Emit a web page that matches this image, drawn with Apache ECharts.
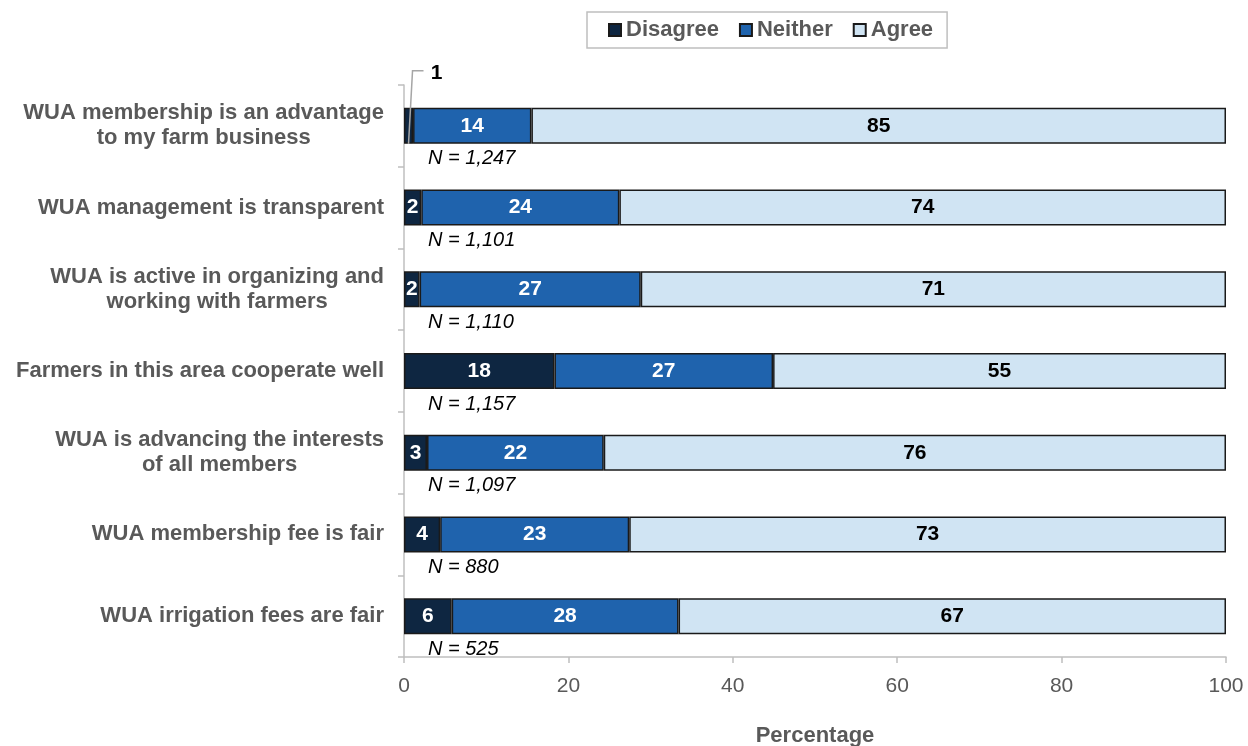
<!DOCTYPE html>
<html>
<head>
<meta charset="utf-8">
<script src="https://cdn.jsdelivr.net/npm/echarts@6/dist/echarts.min.js"></script>
<style>
html,body{margin:0;padding:0;background:#fff;}
#chart{width:1248px;height:746px;}
</style>
</head>
<body>
<div id="chart"></div>
<script>
const categories = [
  'WUA membership is an advantage\nto my farm business',
  'WUA management is transparent',
  'WUA is active in organizing and\nworking with farmers',
  'Farmers in this area cooperate well',
  'WUA is advancing the interests\nof all members',
  'WUA membership fee is fair',
  'WUA irrigation fees are fair'
];
const disagree = [1.1, 2.1, 1.9, 18.3, 2.8, 4.4, 5.8];
const neither  = [14.4, 24.1, 26.9, 26.6, 21.5, 23.0, 27.6];
const agree    = [84.5, 73.8, 71.2, 55.1, 75.7, 72.6, 66.6];
const disagreeLabels = ['1', '2', '2', '18', '3', '4', '6'];
const neitherLabels  = ['14', '24', '27', '27', '22', '23', '28'];
const agreeLabels    = ['85', '74', '71', '55', '76', '73', '67'];
const sampleSizes = ['1,247', '1,101', '1,110', '1,157', '1,097', '880', '525'];
const xTicks = [0, 20, 40, 60, 80, 100];

const FONT = "'Liberation Sans', Arial, sans-serif";
const GREY = '#595959';
const AXIS = '#bfbfbf';
const BORDER = '#1a1a1a';

const chart = echarts.init(document.getElementById('chart'));

function barSeries(name, data, labels, color, labelColor, hideIdx) {
  return {
    name: name,
    type: 'bar',
    stack: 'total',
    barWidth: 36,
    data: data.map((v, i) => ({
      value: v,
      label: { show: hideIdx.indexOf(i) < 0 }
    })),
    itemStyle: { color: color, borderColor: BORDER, borderWidth: 1.5 },
    label: {
      show: true,
      position: 'inside',
      formatter: p => labels[p.dataIndex],
      color: labelColor,
      fontFamily: FONT,
      fontWeight: 'bold',
      fontSize: 21
    },
    emphasis: { disabled: true }
  };
}

const nData = sampleSizes.map((n, i) => [0, i, n]);

const option = {
  animation: false,
  backgroundColor: '#fff',
  textStyle: { fontFamily: FONT },
  legend: {
    data: ['Disagree', 'Neither', 'Agree'],
    left: 587,
    top: 12,
    padding: [7, 14, 7, 21],
    borderColor: AXIS,
    borderWidth: 1.5,
    itemWidth: 12,
    itemHeight: 12,
    itemGap: 20,
    icon: 'rect',
    textStyle: { color: GREY, fontWeight: 'bold', fontSize: 22, fontFamily: FONT }
  },
  grid: { left: 404, right: 22, top: 85, bottom: 89, containLabel: false, outerBoundsMode: 'none' },
  xAxis: {
    type: 'value',
    min: 0,
    max: 100,
    interval: 20,
    name: 'Percentage',
    nameLocation: 'middle',
    nameGap: 68,
    nameTextStyle: { color: GREY, fontWeight: 'bold', fontSize: 22, fontFamily: FONT },
    axisLine: { show: true, lineStyle: { color: AXIS, width: 1.5 } },
    axisTick: { show: true, length: 6, lineStyle: { color: AXIS, width: 1.5 } },
    axisLabel: { color: GREY, fontSize: 21, margin: 19, fontFamily: FONT,
      formatter: v => (xTicks.indexOf(v) >= 0 ? String(v) : '') },
    splitLine: { show: false }
  },
  yAxis: {
    type: 'category',
    inverse: true,
    data: categories,
    axisLine: { show: true, lineStyle: { color: AXIS, width: 1.5 } },
    axisTick: { show: true, length: 6, alignWithLabel: false, lineStyle: { color: AXIS, width: 1.5 } },
    axisLabel: {
      margin: 20, align: 'right',
      formatter: v => v.split('\n').map(l => '{c|' + l + '}').join('\n'),
      rich: {
        c: { align: 'center', color: GREY, fontWeight: 'bold', fontSize: 22, fontFamily: FONT, lineHeight: 25 }
      }
    }
  },
  series: [
    barSeries('Disagree', disagree, disagreeLabels, '#0e2641', '#ffffff', [0]),
    barSeries('Neither', neither, neitherLabels, '#1f63ad', '#ffffff', []),
    barSeries('Agree', agree, agreeLabels, '#d0e4f3', '#000000', []),
    {
      name: 'N',
      type: 'custom',
      data: nData,
      encode: { x: 0, y: 1 },
      silent: true,
      z: 10,
      renderItem: function (params, api) {
        const p = api.coord([api.value(0), api.value(1)]);
        return {
          type: 'text',
          x: p[0] + 24,
          y: p[1] + 33,
          style: {
            text: 'N = ' + nData[params.dataIndex][2],
            font: 'italic 20px ' + FONT,
            fill: '#000',
            verticalAlign: 'middle',
            align: 'left'
          }
        };
      }
    },
    {
      name: 'leader',
      type: 'custom',
      data: [[disagree[0], 0]],
      encode: { x: 0, y: 1 },
      silent: true,
      z: 10,
      renderItem: function (params, api) {
        const mid = api.coord([api.value(0) / 2, api.value(1)]);
        const x0 = mid[0];
        const y0 = mid[1] + 18;
        const yTop = mid[1] - 55;
        return {
          type: 'group',
          children: [
            {
              type: 'polyline',
              shape: { points: [[x0, y0], [x0 + 4, yTop], [x0 + 15, yTop]] },
              style: { stroke: '#a6a6a6', lineWidth: 1.5, fill: null }
            },
            {
              type: 'text',
              x: x0 + 28,
              y: yTop + 2,
              style: {
                text: disagreeLabels[0],
                font: 'bold 21px ' + FONT,
                fill: '#000',
                verticalAlign: 'middle',
                align: 'center'
              }
            }
          ]
        };
      }
    }
  ]
};

chart.setOption(option);
</script>
</body>
</html>
